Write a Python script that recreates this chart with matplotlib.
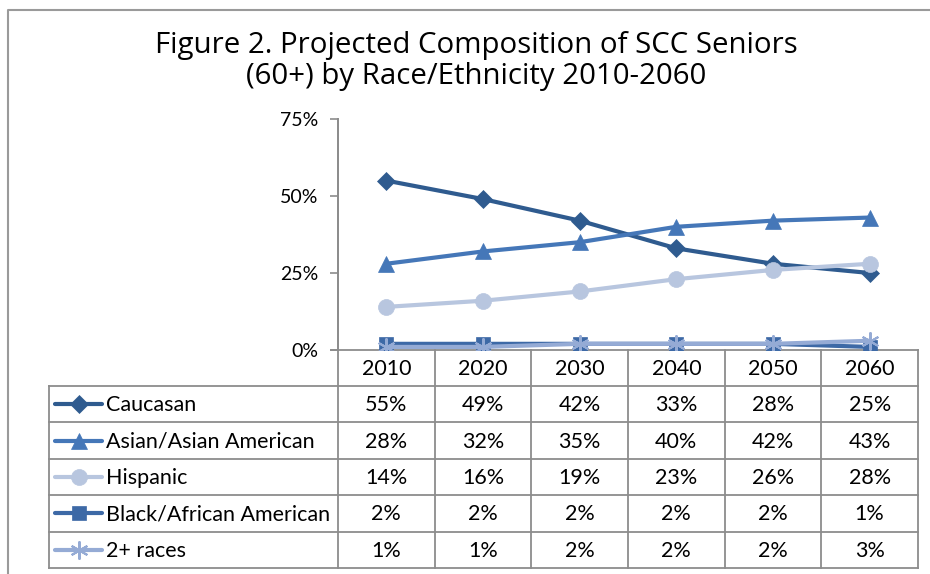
import matplotlib.pyplot as plt
from matplotlib.lines import Line2D

years = ['2010', '2020', '2030', '2040', '2050', '2060']
groups = ['Caucasan', 'Asian/Asian American', 'Hispanic',
          'Black/African American', '2+ races']
caucasan = [55, 49, 42, 33, 28, 25]
asian = [28, 32, 35, 40, 42, 43]
hispanic = [14, 16, 19, 23, 26, 28]
black = [2, 2, 2, 2, 2, 1]
two_plus = [1, 1, 2, 2, 2, 3]
series = [caucasan, asian, hispanic, black, two_plus]

colors = ['#2F5B8F', '#4577B8', '#B8C6DF', '#3D69A6', '#95ABD5']
markers = ['D', '^', 'o', 's', (6, 2, 0)]
msizes = [9.5, 11.5, 11.5, 10.5, 13]

W, H = 930, 574
fig = plt.figure(figsize=(W / 100, H / 100), dpi=100)
font = 'Lato'
grid_c = '#8C8C8C'

# main plot area (pixel positions from the reference)
x0, x1 = 338, 918
y_top, y_zero = 119, 350
ax = fig.add_axes([x0 / W, 1 - y_zero / H, (x1 - x0) / W, (y_zero - y_top) / H])
xs = range(len(years))
for vals, c, m, ms in zip(series, colors, markers, msizes):
    ax.plot(xs, [v / 100 for v in vals], color=c, lw=3, marker=m,
            markersize=ms, markeredgewidth=1.5 if m == markers[4] else 0.5,
            markeredgecolor=c, solid_capstyle='round')
ax.set_xlim(-0.5, len(years) - 0.5)
ax.set_ylim(0, 0.75)
ax.set_yticks([0, 0.25, 0.5, 0.75])
ax.set_yticklabels(['0%', '25%', '50%', '75%'], fontsize=14, family=font)
ax.set_xticks([])
ax.tick_params(axis='y', length=6, width=1.2, color=grid_c, pad=8)
for s in ['top', 'right']:
    ax.spines[s].set_visible(False)
for s in ['left', 'bottom']:
    ax.spines[s].set_color(grid_c)
    ax.spines[s].set_linewidth(1.3)
ax.spines['bottom'].set_visible(False)
ax.set_facecolor('none')

# overlay in pixel coordinates for frame and data table
ov = fig.add_axes([0, 0, 1, 1], zorder=-1)
ov.set_xlim(0, W)
ov.set_ylim(H, 0)
ov.axis('off')

# outer frame
ov.plot([8, 8, W + 5], [H + 5, 10, 10], color='#9A9A9A', lw=1.5)

fig.text(476 / W, 1 - 61 / H,
         'Figure 2. Projected Composition of SCC Seniors\n(60+) by Race/Ethnicity 2010-2060',
         ha='center', va='center', fontsize=21.2, family='Open Sans',
         linespacing=1.05)

# table
leg_x = 49
row_edges = [350, 386, 422.4, 458.8, 495.2, 531.6, 568]
col_w = (x1 - x0) / len(years)
col_edges = [x0 + i * col_w for i in range(len(years) + 1)]
lw = 1.3
# horizontal lines
ov.plot([x0 - 7, x1], [row_edges[0]] * 2, color=grid_c, lw=lw)
for y in row_edges[1:]:
    ov.plot([leg_x, x1], [y, y], color=grid_c, lw=lw)
# vertical lines
ov.plot([x0, x0], [y_top, row_edges[-1]], color=grid_c, lw=lw)
for x in col_edges[1:]:
    ov.plot([x, x], [row_edges[0], row_edges[-1]], color=grid_c, lw=lw)
ov.plot([leg_x, leg_x], [row_edges[1], row_edges[-1]], color=grid_c, lw=lw)

fs = 15.5
for j, yr in enumerate(years):
    cx = (col_edges[j] + col_edges[j + 1]) / 2
    ov.text(cx, (row_edges[0] + row_edges[1]) / 2 + 1, yr, ha='center',
            va='center', fontsize=fs, family=font)

for i, (g, vals) in enumerate(zip(groups, series)):
    cy = (row_edges[i + 1] + row_edges[i + 2]) / 2
    ov.add_line(Line2D([55, 102], [cy, cy], color=colors[i], lw=3,
                       solid_capstyle='round'))
    ov.plot([78.5], [cy], marker=markers[i], color=colors[i],
            markersize=msizes[i], markeredgecolor=colors[i],
            markeredgewidth=1.5 if i == 4 else 0.5)
    ov.text(106, cy + 1, g, ha='left', va='center', fontsize=fs, family=font)
    for j, v in enumerate(vals):
        cx = (col_edges[j] + col_edges[j + 1]) / 2
        ov.text(cx, cy + 1, f'{v}%', ha='center', va='center',
                fontsize=fs, family=font)

fig.savefig('out.png', dpi=100)
